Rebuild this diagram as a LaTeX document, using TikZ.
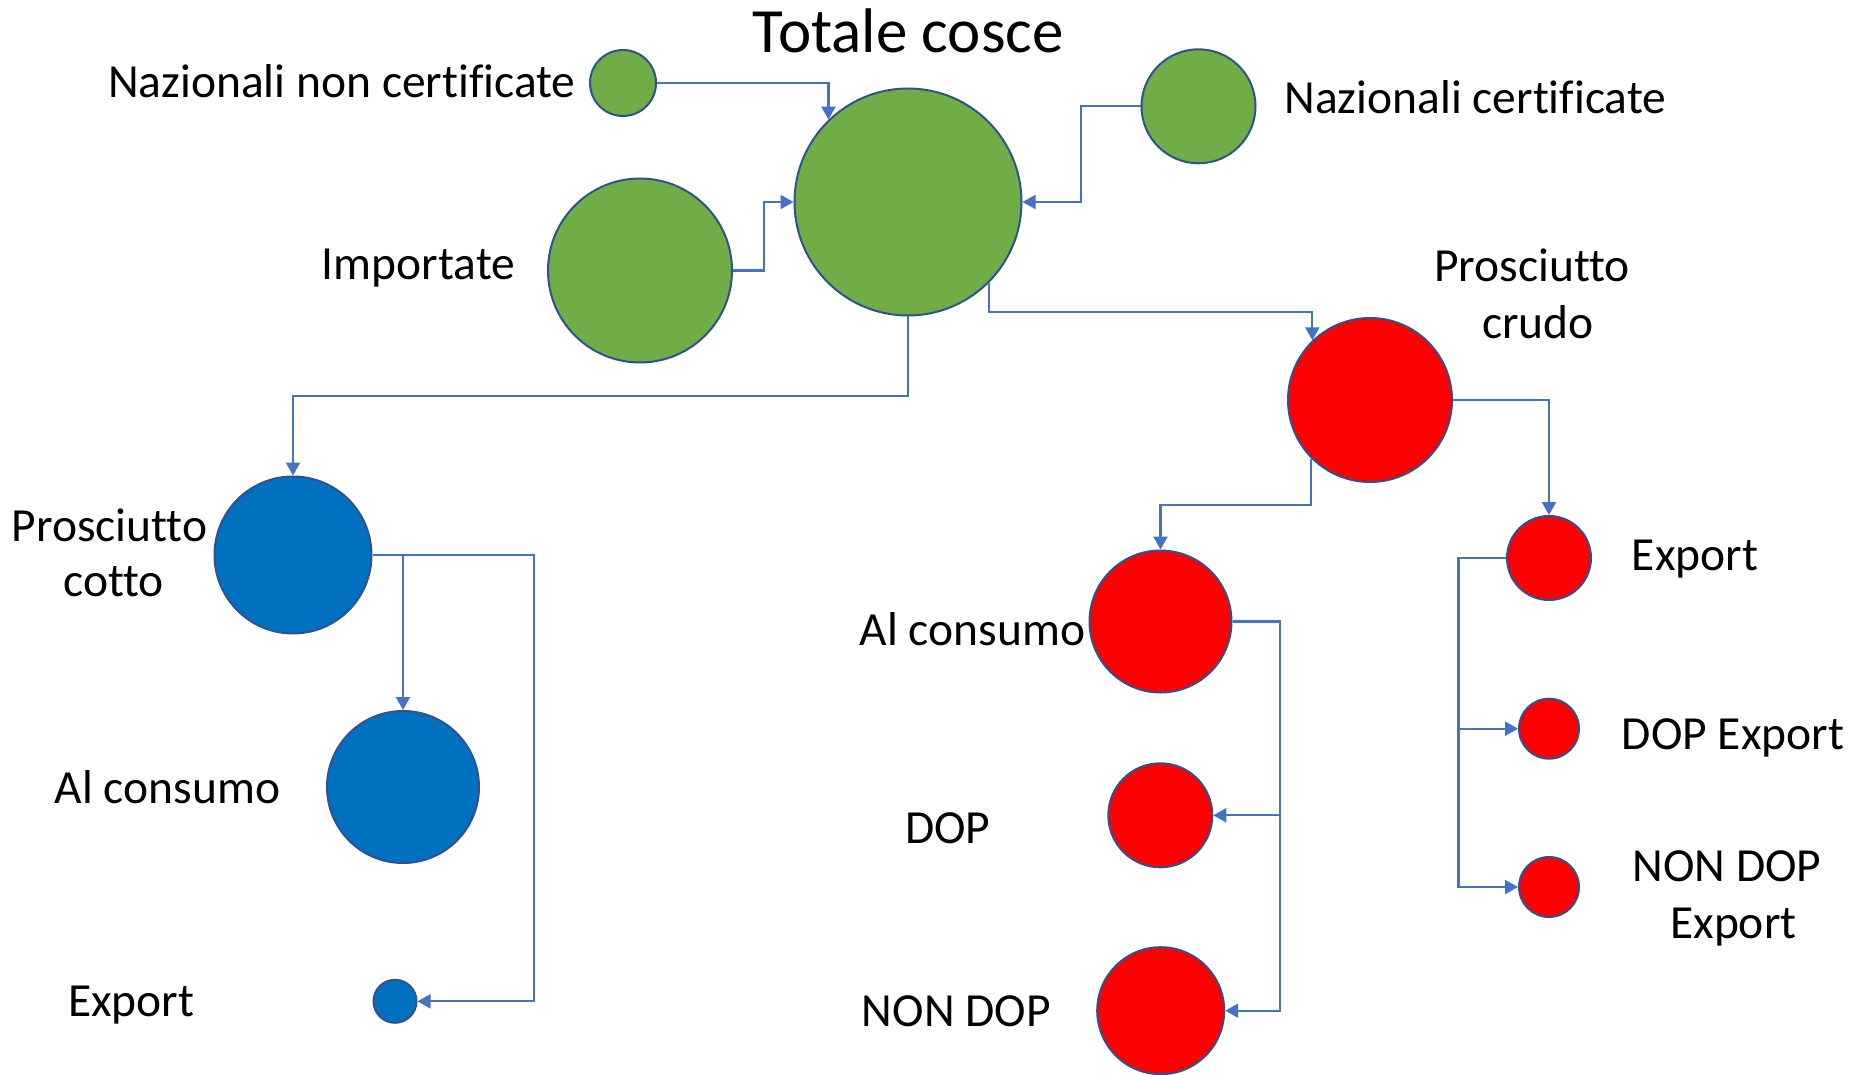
\documentclass[tikz,border=0pt]{standalone}
\usepackage{fontspec}
\setmainfont{Carlito}[Ligatures={NoCommon,NoRare,NoContextual}]
\usetikzlibrary{arrows.meta}
\definecolor{cgreen}{HTML}{70AD47}
\definecolor{cblue}{HTML}{0070C0}
\definecolor{cred}{HTML}{FF0000}
\definecolor{cedge}{HTML}{2F528F}
\definecolor{cline}{HTML}{4472C4}
\begin{document}
\begin{tikzpicture}[x=1pt,y=-1pt,
  ball/.style={circle,draw=cedge,line width=2pt,inner sep=0pt,minimum size=#1},
  gball/.style={ball=#1,fill=cgreen},
  bball/.style={ball=#1,fill=cblue},
  rball/.style={ball=#1,fill=cred},
  conn/.style={draw=cline,line width=2.2pt,-{Triangle[length=13pt,width=14pt]}},
  lbl/.style={anchor=base,inner sep=0pt,text=black,font=\fontsize{47.5}{57}\selectfont},
  ttl/.style={anchor=base,inner sep=0pt,text=black,font=\fontsize{63}{75}\selectfont}]
\useasboundingbox[fill=white] (0,0) rectangle (1853,1075);

% circles
\node[gball=66]  (nnc) at (623,83) {};
\node[gball=227] (tot) at (908,202) {};
\node[gball=184] (imp) at (640,270.5) {};
\node[gball=114] (nc) at (1198.5,106.3) {};
\node[rball=164] (crudo) at (1370,400) {};
\node[bball=157] (cotto) at (293,555) {};
\node[bball=152] (bcons) at (403,787) {};
\node[bball=43]  (bexp) at (395,1001.3) {};
\node[rball=142] (rcons) at (1160.5,621.5) {};
\node[rball=104] (rdop) at (1160.3,815.3) {};
\node[rball=127] (rnondop) at (1160.7,1010.7) {};
\node[rball=84]  (rexp) at (1549,558) {};
\node[rball=60]  (rdopexp) at (1549,728.7) {};
\node[rball=60]  (rnondopexp) at (1549,887) {};

% labels
\node[ttl] (tTot) at (908.4,52.7) {Totale cosce};
\node[lbl] (tNnc) at (341.9,97.3) {Nazionali non certificate};
\node[lbl] (tNc) at (1475.4,114) {Nazionali certificate};
\node[lbl] (tImp) at (418.5,280) {Importate};
\node[lbl] (tCrudoA) at (1532,282) {Prosciutto};
\node[lbl] (tCrudoB) at (1538,338) {crudo};
\node[lbl] (tCottoA) at (109.5,541.7) {Prosciutto};
\node[lbl] (tCottoB) at (113.8,596.7) {cotto};
\node[lbl] (tBcons) at (167.5,803.3) {Al consumo};
\node[lbl] (tBexp) at (131.3,1016.7) {Export};
\node[lbl] (tRcons) at (972.5,645) {Al consumo};
\node[lbl] (tRdop) at (947.8,843.3) {DOP};
\node[lbl] (tRnondop) at (956.3,1026) {NON DOP};
\node[lbl] (tRexp) at (1695,570.7) {Export};
\node[lbl] (tRdopexp) at (1733,749.3) {DOP Export};
\node[lbl] (tRnondopexpA) at (1727,881.7) {NON DOP};
\node[lbl] (tRnondopexpB) at (1733.4,938.3) {Export};

% connectors into Totale cosce
\draw[conn] (nnc.east) -| (tot.134.8);
\draw[conn] (imp.east) -- ++(31,0) |- (tot.west);
\draw[conn] (nc.west) -- ++(-59.5,0) |- (tot.east);

% Totale cosce to crudo and cotto
\draw[conn] (tot.-45) -- (tot.-45 |- 0,312) -| (crudo.134.2);
\draw[conn] (tot.south) -- (tot.south |- 0,396) -| (cotto.north);

% crudo branches
\draw[conn] (crudo.east) -| (rexp.north);
\draw[conn] (crudo.225.8) -- (crudo.225.8 |- 0,505) -| (rcons.north);

% crudo export branches
\draw[conn] (rexp.west) -- ++(-47.5,0) |- (rdopexp.west);
\draw[conn] (rexp.west) -- ++(-47.5,0) |- (rnondopexp.west);

% crudo al consumo branches
\draw[conn] (rcons.east) -- ++(47.5,0) |- (rdop.east);
\draw[conn] (rcons.east) -- ++(47.5,0) |- (rnondop.east);

% cotto branches
\draw[conn] (cotto.east) -| (bcons.north);
\draw[conn] (cotto.east) -- ++(161.5,0) |- (bexp.east);
\end{tikzpicture}
\end{document}
